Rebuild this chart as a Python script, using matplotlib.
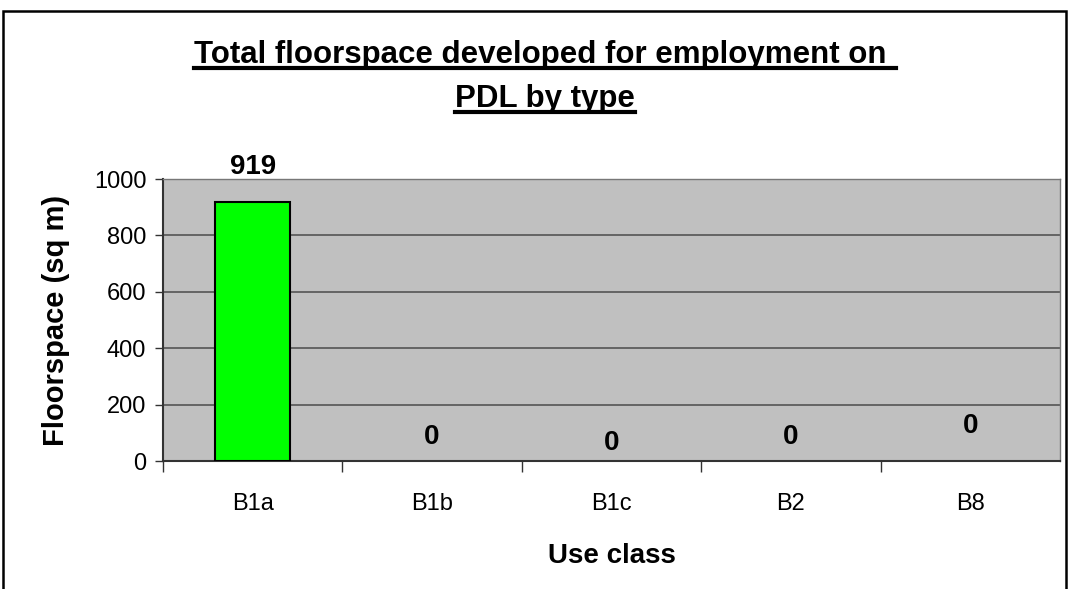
import matplotlib
matplotlib.use('Agg')
import matplotlib.pyplot as plt
from matplotlib.patches import Rectangle
from matplotlib.lines import Line2D

categories = ['B1a', 'B1b', 'B1c', 'B2', 'B8']
floorspace = [919, 0, 0, 0, 0]
yticks = [0, 200, 400, 600, 800, 1000]
title_lines = ['Total floorspace developed for employment on ', 'PDL by type']
# label offsets above bar top, in pixels (Excel placed them unevenly)
label_offsets = [35, 24, 18, 24, 35]

plt.rcParams['font.family'] = ['Liberation Sans', 'DejaVu Sans']

fig = plt.figure(figsize=(10.69, 5.89), dpi=100)
ax = fig.add_axes([163/1069, 1 - 461/589, 897/1069, 282/589])
ax.set_facecolor('#c0c0c0')

x = list(range(len(categories)))
edge_w = [1.5 if v > 0 else 0 for v in floorspace]
ax.bar(x, floorspace, width=0.42, color='#00ff00', edgecolor='black', linewidth=edge_w, zorder=3)

ax.set_xlim(-0.5, len(categories) - 0.5)
ax.set_ylim(0, 1000)
ax.set_yticks(yticks)
ax.set_yticklabels([str(v) for v in yticks], fontsize=17)
ax.yaxis.grid(True, color='#555555', linewidth=1.2, zorder=1)
ax.set_axisbelow(True)
ax.tick_params(axis='y', direction='out', length=6, width=1, color='#333333', pad=6)

# category labels centred, tick marks on boundaries
ax.set_xticks(x)
ax.set_xticklabels(categories, fontsize=17)
ax.tick_params(axis='x', which='major', length=0, pad=23)
ax.set_xticks([i + 0.5 for i in x[:-1]] + [-0.5], minor=True)
ax.tick_params(axis='x', which='minor', direction='out', length=8, width=1, color='#333333')

for side in ['top', 'right']:
    ax.spines[side].set_color('#777777')
    ax.spines[side].set_linewidth(1)
for side in ['left', 'bottom']:
    ax.spines[side].set_color('#333333')
    ax.spines[side].set_linewidth(1.5)

for xi, v, off in zip(x, floorspace, label_offsets):
    ax.annotate(str(v), (xi, v), xytext=(0, off), textcoords='offset pixels',
                ha='center', va='center', fontsize=20, fontweight='bold')

ax.set_xlabel('Use class', fontsize=20, fontweight='bold', labelpad=20)
ax.set_ylabel('Floorspace (sq m)', fontsize=21, fontweight='bold', labelpad=17)

# title, two underlined lines
t1 = fig.text(545/1069, 1 - 55/589, title_lines[0], ha='center', va='center',
              fontsize=22.5, fontweight='bold')
t2 = fig.text(545/1069, 1 - 99/589, title_lines[1], ha='center', va='center',
              fontsize=22.5, fontweight='bold')

fig.canvas.draw()
r = fig.canvas.get_renderer()
for t in (t1, t2):
    bb = t.get_window_extent(r).transformed(fig.transFigure.inverted())
    yl = bb.y0 + 0.08 * (bb.y1 - bb.y0)
    fig.add_artist(Line2D([bb.x0, bb.x1], [yl, yl], transform=fig.transFigure,
                          color='black', linewidth=3))

# chart frame
fig.add_artist(Rectangle((3/1069, -0.05), 1063/1069, 1 - 11/589 + 0.05,
                         transform=fig.transFigure, fill=False,
                         edgecolor='black', linewidth=1.8, clip_on=False))

fig.savefig('out.png', dpi=100)
